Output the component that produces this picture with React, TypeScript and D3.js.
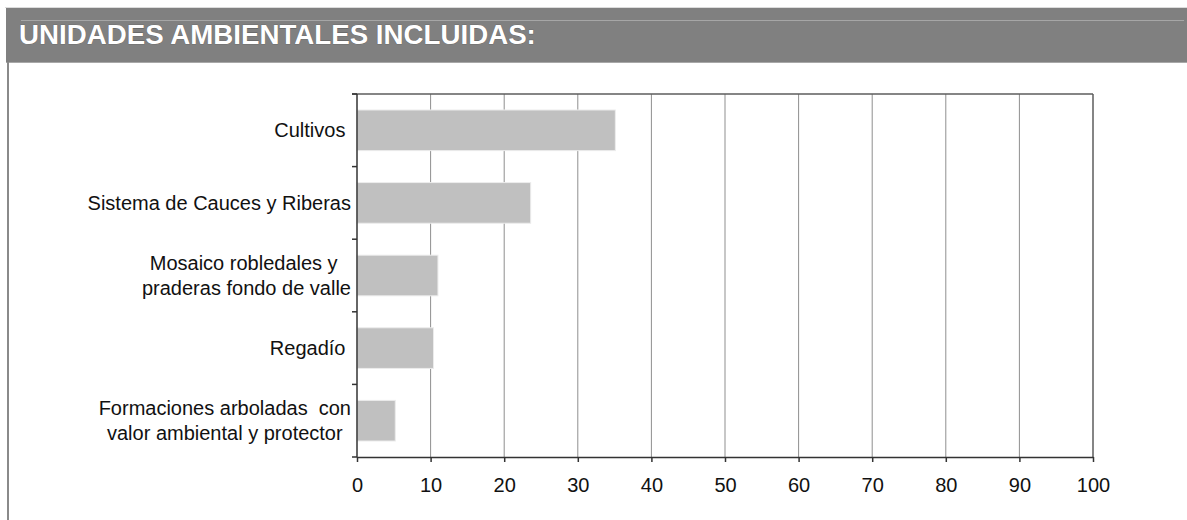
import React, { useEffect, useRef } from 'react';
import * as d3 from 'd3';

// chart data
const title = 'UNIDADES AMBIENTALES INCLUIDAS:';
const categories = [
  'Cultivos ',
  'Sistema de Cauces y Riberas',
  'Mosaico robledales y \npraderas fondo de valle',
  'Regadío ',
  'Formaciones arboladas  con\nvalor ambiental y protector',
];
const values = [35.1, 23.6, 11.0, 10.4, 5.2];
const xTicks = [0, 10, 20, 30, 40, 50, 60, 70, 80, 90, 100];

const W = 1187;
const H = 520;
const FONT = '"Liberation Sans", Arial, sans-serif';

const App: React.FC = () => {
  const ref = useRef<SVGSVGElement | null>(null);

  useEffect(() => {
    if (!ref.current) return;
    const svg = d3.select(ref.current);
    svg.selectAll('*').remove();

    // header band
    svg.append('rect').attr('x', 5).attr('y', 7).attr('width', W - 5).attr('height', 1).attr('fill', '#dcdcdc');
    svg.append('rect').attr('x', 6).attr('y', 8).attr('width', W - 6).attr('height', 54).attr('fill', '#808080');
    svg.append('rect').attr('x', 21).attr('y', 20).attr('width', W - 24).attr('height', 1).attr('fill', '#a6a6a6');
    svg.append('rect').attr('x', 6).attr('y', 62).attr('width', W - 6).attr('height', 1).attr('fill', '#a8a8a8');
    svg.append('rect').attr('x', 7).attr('y', 62).attr('width', 2).attr('height', H - 62).attr('fill', '#8a8a8a');

    svg.append('text')
      .attr('x', 19)
      .attr('y', 44)
      .attr('fill', '#ffffff')
      .attr('font-family', FONT)
      .attr('font-weight', 'bold')
      .attr('font-size', 27.7)
      .style('paint-order', 'stroke')
      .attr('stroke', '#5a5a5a')
      .attr('stroke-width', 0.6)
      .text(title);

    // plot
    const left = 357, right = 1093, top = 94, bottom = 457;
    const n = categories.length;

    const x = d3.scaleLinear().domain([0, 100]).range([left, right]);
    const y = d3.scaleBand<number>()
      .domain(d3.range(n))
      .range([top, bottom])
      .paddingInner(0.44)
      .paddingOuter(0.22);

    const g = svg.append('g');

    // vertical grid lines
    g.selectAll('line.grid')
      .data(xTicks.filter(t => t > 0 && t < 100))
      .join('line')
      .attr('class', 'grid')
      .attr('x1', d => x(d)).attr('x2', d => x(d))
      .attr('y1', top).attr('y2', bottom)
      .attr('stroke', '#8f8f8f')
      .attr('stroke-width', 1);

    // frame top/right
    g.append('line').attr('x1', left - 5).attr('x2', right).attr('y1', top).attr('y2', top)
      .attr('stroke', '#5c5c5c').attr('stroke-width', 1.5);
    g.append('line').attr('x1', right).attr('x2', right).attr('y1', top).attr('y2', bottom)
      .attr('stroke', '#5c5c5c').attr('stroke-width', 1.5);

    // bars
    g.selectAll('rect.bar')
      .data(values)
      .join('rect')
      .attr('class', 'bar')
      .attr('x', x(0))
      .attr('y', (_, i) => y(i) as number)
      .attr('width', d => x(d) - x(0))
      .attr('height', y.bandwidth())
      .attr('fill', '#c0c0c0')
      .attr('stroke', '#ececec')
      .attr('stroke-width', 1);

    // y axis line + band boundary ticks
    const step = y.step();
    const bounds = d3.range(n + 1).map(i => top + i * step);
    g.append('line').attr('x1', left).attr('x2', left).attr('y1', top).attr('y2', bottom)
      .attr('stroke', '#333').attr('stroke-width', 1.5);
    g.selectAll('line.ytick')
      .data(bounds)
      .join('line')
      .attr('class', 'ytick')
      .attr('x1', left - 5).attr('x2', left)
      .attr('y1', d => d).attr('y2', d => d)
      .attr('stroke', '#333').attr('stroke-width', 1.5);

    // x axis
    const xAxis = g.append('g')
      .attr('transform', `translate(0,${bottom})`)
      .call(d3.axisBottom(x).tickValues(xTicks).tickSize(5).tickSizeOuter(0).tickPadding(16));
    xAxis.select('.domain').attr('stroke', '#333').attr('stroke-width', 1.5);
    xAxis.selectAll('.tick line').attr('stroke', '#333').attr('stroke-width', 1.5);
    xAxis.selectAll('.tick text')
      .attr('fill', '#111')
      .attr('font-family', FONT)
      .attr('font-size', 20);

    // category labels: lines centred in a box whose right edge sits near the axis
    const labelRight = 351;
    const lineH = 25;
    categories.forEach((name, i) => {
      const lines = name.split('\n');
      const cy = (y(i) as number) + y.bandwidth() / 2;
      const t = g.append('text')
        .attr('font-family', FONT)
        .attr('font-size', 20)
        .attr('fill', '#111')
        .attr('text-anchor', 'middle')
        .style('white-space', 'pre');
      const spans = lines.map((ln, j) =>
        t.append('tspan')
          .attr('y', cy + (j - (lines.length - 1) / 2) * lineH)
          .attr('dy', '0.35em')
          .text(ln)
      );
      const widths = spans.map(s => (s.node() as SVGTSpanElement).getComputedTextLength());
      const cx = labelRight - (d3.max(widths) as number) / 2;
      spans.forEach(s => s.attr('x', cx));
    });
  }, []);

  return (
    <svg
      ref={ref}
      width={W}
      height={H}
      style={{ position: 'absolute', left: 0, top: 0, background: '#fff' }}
    />
  );
};

export default App;
